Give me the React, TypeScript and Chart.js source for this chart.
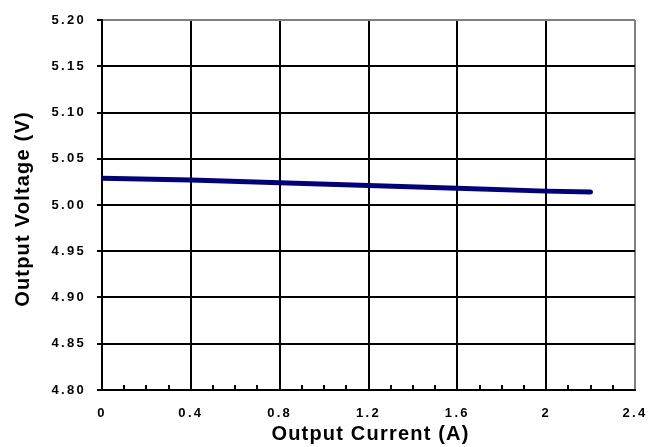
import React, { useEffect, useRef } from "react";
import { Chart, registerables } from "chart.js";
Chart.register(...registerables);

const currents = [0, 0.4, 0.8, 1.2, 1.6, 2.0, 2.2];
const voltages = [5.029, 5.027, 5.024, 5.021, 5.018, 5.015, 5.014];
const xTitle = "Output Current (A)";
const yTitle = "Output Voltage (V)";
const xMin = 0;
const xMax = 2.4;
const xStep = 0.4;
const yMin = 4.8;
const yMax = 5.2;
const yStep = 0.05;
const minorTicks = [0.1, 0.2, 0.3, 0.5, 0.6, 0.7, 0.9, 1.0, 1.1, 1.3, 1.4, 1.5, 1.7, 1.8, 1.9, 2.1, 2.2, 2.3];

const FONT = "'Liberation Sans', Arial, sans-serif";

export default function App() {
  const ref = useRef<HTMLCanvasElement>(null);
  useEffect(() => {
    document.body.style.margin = "0";
    const decoPlugin = {
      id: "deco",
      beforeDraw(chart: any) {
        chart.ctx.letterSpacing = "2.3px";
      },
      afterDraw(chart: any) {
        const { ctx, chartArea, scales } = chart;
        ctx.save();
        ctx.letterSpacing = "0px";
        ctx.strokeStyle = "#000";
        ctx.lineWidth = 2;
        for (const v of minorTicks) {
          const x = Math.round(scales.x.getPixelForValue(v));
          ctx.beginPath();
          ctx.moveTo(x, chartArea.bottom);
          ctx.lineTo(x, chartArea.bottom - 5);
          ctx.stroke();
        }
        ctx.fillStyle = "#000";
        ctx.font = `bold 20px ${FONT}`;
        ctx.letterSpacing = "1.2px";
        ctx.textAlign = "center";
        ctx.textBaseline = "alphabetic";
        ctx.fillText(xTitle, (chartArea.left + chartArea.right) / 2 + 2, 440);
        ctx.translate(29, (chartArea.top + chartArea.bottom) / 2 + 4);
        ctx.rotate(-Math.PI / 2);
        ctx.fillText(yTitle, 0, 0);
        ctx.restore();
        ctx.letterSpacing = "0px";
      },
    };

    const chart = new Chart(ref.current as HTMLCanvasElement, {
      type: "line",
      data: {
        datasets: [
          {
            data: currents.map((c, i) => ({ x: c, y: voltages[i] })),
            borderColor: "#000080",
            borderWidth: 5,
            borderCapStyle: "round",
            pointRadius: 0,
            fill: false,
            tension: 0,
          },
        ],
      },
      options: {
        animation: false,
        responsive: false,
        devicePixelRatio: 1,
        layout: { padding: { top: 20, right: 13, bottom: 0, left: 0 } },
        plugins: { legend: { display: false }, tooltip: { enabled: false } },
        scales: {
          x: {
            type: "linear",
            min: xMin,
            max: xMax,
            ticks: {
              stepSize: xStep,
              color: "#000",
              font: { family: FONT, size: 13, weight: "bold" },
              padding: 16,
              maxRotation: 0,
              autoSkip: false,
              callback: (v: any) => String(Number(Number(v).toFixed(1))),
            },
            grid: {
              color: (c: any) =>
                c.tick && Math.abs(c.tick.value - xMax) < 1e-6 ? "#808080" : "#000",
              lineWidth: 2,
              drawTicks: false,
            },
            border: { color: "#000", width: 2 },
            afterFit: (s: any) => {
              s.height = 57;
              s.paddingLeft = 0;
              s.paddingRight = 0;
            },
          },
          y: {
            type: "linear",
            min: yMin,
            max: yMax,
            ticks: {
              stepSize: yStep,
              color: "#000",
              font: { family: FONT, size: 13, weight: "bold" },
              padding: 11,
              callback: (v: any) => Number(v).toFixed(2),
            },
            grid: {
              color: (c: any) =>
                c.tick && Math.abs(c.tick.value - yMax) < 1e-6 ? "#808080" : "#000",
              lineWidth: 2,
              tickLength: 5,
              tickColor: "#000",
            },
            border: { color: "#000", width: 2 },
            afterFit: (s: any) => {
              s.width = 102;
              s.paddingTop = 0;
              s.paddingBottom = 0;
            },
          },
        },
      },
      plugins: [decoPlugin],
    } as any);
    return () => chart.destroy();
  }, []);
  return <canvas ref={ref} width={648} height={447} style={{ display: "block" }} />;
}
